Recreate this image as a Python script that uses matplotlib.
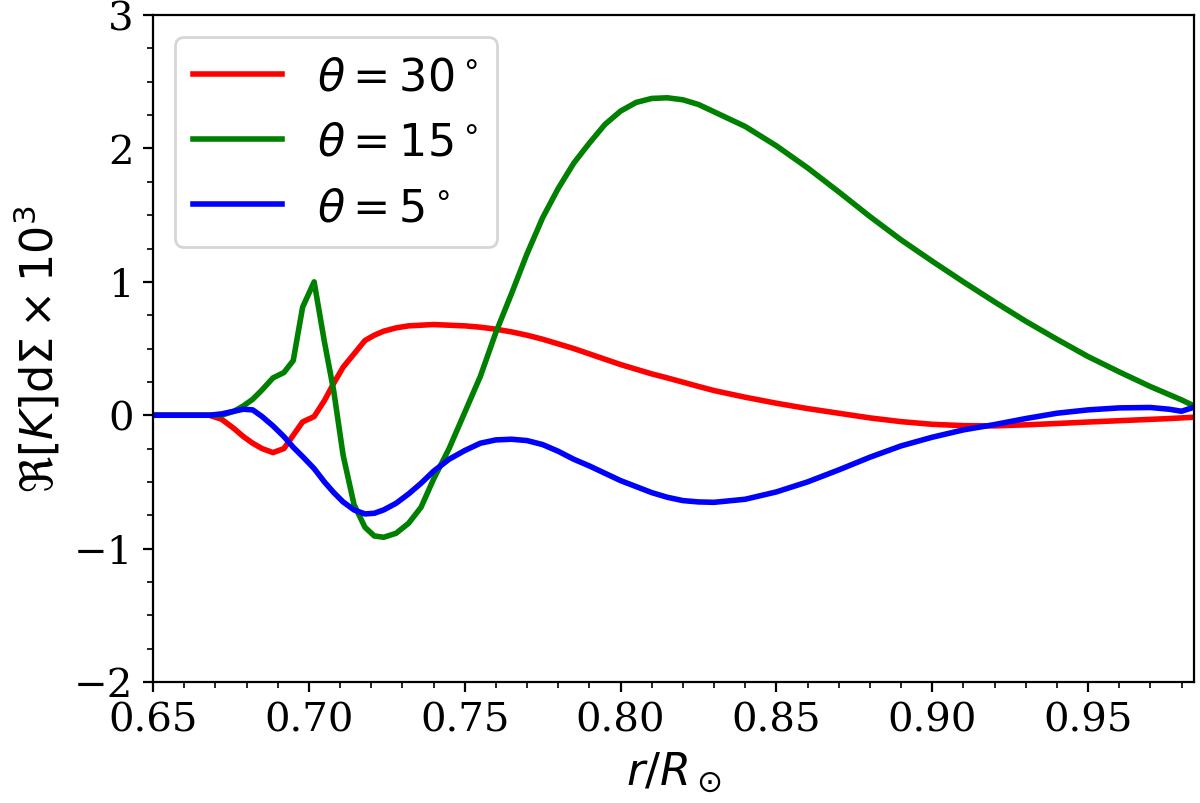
import matplotlib
matplotlib.use("Agg")
import matplotlib.pyplot as plt
from matplotlib.ticker import MultipleLocator

# radius grid r/R_sun
r = [0.650, 0.660, 0.668, 0.672, 0.676, 0.679, 0.682, 0.685, 0.6885, 0.692,
     0.695, 0.698, 0.7017, 0.705, 0.708, 0.711, 0.7145, 0.718, 0.721, 0.724,
     0.728, 0.732, 0.736, 0.740, 0.745, 0.750, 0.755, 0.760, 0.765, 0.770,
     0.775, 0.780, 0.785, 0.790, 0.795, 0.800, 0.805, 0.810, 0.815, 0.820,
     0.825, 0.830, 0.840, 0.850, 0.860, 0.870, 0.880, 0.890, 0.900, 0.910,
     0.920, 0.930, 0.940, 0.950, 0.960, 0.970, 0.976, 0.980, 0.984]

k_30 = [0.0, 0.0, 0.0, -0.03, -0.10, -0.16, -0.21, -0.25, -0.28, -0.25,
        -0.15, -0.05, -0.01, 0.11, 0.24, 0.36, 0.46, 0.56, 0.60, 0.63,
        0.655, 0.67, 0.675, 0.68, 0.675, 0.67, 0.66, 0.645, 0.625, 0.60,
        0.57, 0.535, 0.50, 0.46, 0.42, 0.38, 0.345, 0.31, 0.28, 0.248,
        0.216, 0.185, 0.135, 0.09, 0.05, 0.015, -0.02, -0.048, -0.068, -0.078,
        -0.08, -0.072, -0.062, -0.051, -0.041, -0.031, -0.025, -0.02, -0.015]

k_15 = [0.0, 0.0, 0.0, 0.0, 0.03, 0.07, 0.12, 0.19, 0.28, 0.32,
        0.41, 0.81, 1.0, 0.55, 0.18, -0.30, -0.67, -0.84, -0.905, -0.915,
        -0.885, -0.81, -0.69, -0.48, -0.25, 0.02, 0.29, 0.62, 0.91, 1.21,
        1.48, 1.70, 1.89, 2.04, 2.18, 2.28, 2.345, 2.375, 2.38, 2.365,
        2.33, 2.275, 2.165, 2.02, 1.855, 1.675, 1.49, 1.315, 1.155, 1.0,
        0.85, 0.705, 0.57, 0.44, 0.325, 0.215, 0.155, 0.115, 0.07]

k_5 = [0.0, 0.0, 0.0, 0.01, 0.03, 0.045, 0.04, -0.01, -0.08, -0.16,
       -0.24, -0.31, -0.40, -0.50, -0.58, -0.65, -0.71, -0.74, -0.735, -0.71,
       -0.66, -0.59, -0.51, -0.42, -0.33, -0.265, -0.21, -0.185, -0.18, -0.19,
       -0.22, -0.27, -0.33, -0.38, -0.435, -0.49, -0.535, -0.58, -0.615, -0.64,
       -0.65, -0.653, -0.63, -0.575, -0.50, -0.41, -0.315, -0.23, -0.165, -0.11,
       -0.07, -0.025, 0.015, 0.04, 0.055, 0.058, 0.045, 0.03, 0.06]

plt.rcParams["font.family"] = "DejaVu Serif"
plt.rcParams["mathtext.fontset"] = "dejavusans"

fig = plt.figure(figsize=(6, 4.02), dpi=200)
ax = fig.add_axes([0.1275, 0.1505, 0.8675, 0.8295])

ax.plot(r, k_30, color="red", lw=2, label=r"$\theta = 30^\circ$")
ax.plot(r, k_15, color="green", lw=2, label=r"$\theta = 15^\circ$")
ax.plot(r, k_5, color="blue", lw=2, label=r"$\theta = 5^\circ$")

ax.set_xlim(0.65, 0.984)
ax.set_ylim(-2, 3)
ax.xaxis.set_major_locator(MultipleLocator(0.05))
ax.xaxis.set_minor_locator(MultipleLocator(0.01))
ax.yaxis.set_major_locator(MultipleLocator(1))
ax.yaxis.set_minor_locator(MultipleLocator(0.25))
ax.tick_params(labelsize=14.5)

ax.set_xlabel(r"$r/R_\odot$", fontsize=16)
ax.set_ylabel(r"$\Re[K]\mathrm{d}\Sigma \times 10^3$", fontsize=16)
ax.legend(loc="upper left", fontsize=16)

fig.savefig("out.png", dpi=200)
